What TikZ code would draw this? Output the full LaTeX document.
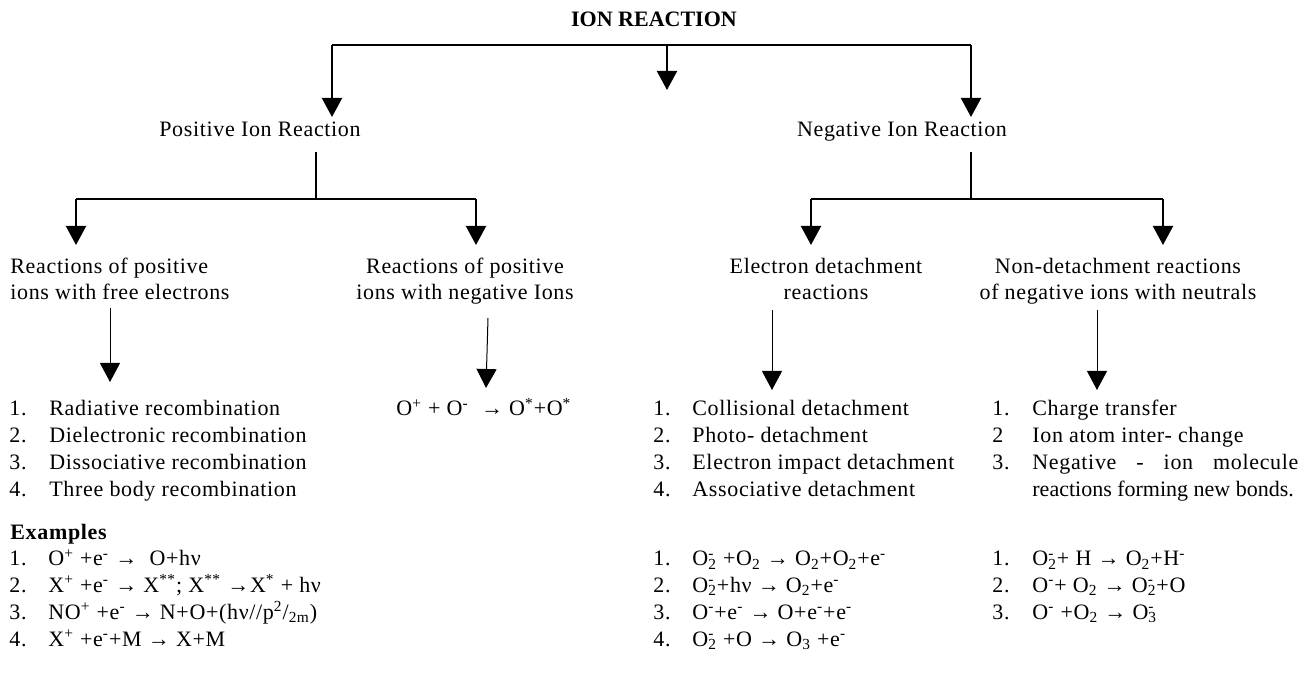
\documentclass[tikz,border=0pt]{standalone}
\usepackage{fontspec}
\setmainfont{Liberation Serif}[LetterSpace=3]
\usetikzlibrary{arrows.meta}
\newcommand{\ionSS}[2]{\rlap{\textsuperscript{#2}}\textsubscript{#1}}
\newcommand{\drawDownArrow}[3]{
	\draw[#3] (#1) -- (#2);
}
\tikzset{
	every node/.style={inner sep=0pt},
	bigtip/.style={-{Triangle[length=9.5pt,width=10pt]}},
	thickline/.style={line width=1pt},
	thinline/.style={line width=0.5pt},
	headtext/.style={font=\fontsize{11}{13}\selectfont},
	listtext/.style={font=\fontsize{11}{13.5}\selectfont},
	extext/.style={font=\fontsize{11}{13.35}\selectfont}
}

\begin{document}
\begin{tikzpicture}[x=0.5pt,y=-0.5pt,font=\fontsize{11}{13}\selectfont]
	\useasboundingbox (0,0) rectangle (1308,683);

	\coordinate (TOP_L) at (332,45);
	\coordinate (TOP_M) at (667,45);
	\coordinate (TOP_R) at (971,45);
	\coordinate (TIP_L) at (332,117);
	\coordinate (TIP_M) at (667,90);
	\coordinate (TIP_R) at (971,117);

	\coordinate (POS_S) at (316,152);
	\coordinate (POS_B) at (316,199);
	\coordinate (POS_BL) at (76,199);
	\coordinate (POS_BR) at (476,199);
	\coordinate (POS_TL) at (76,245);
	\coordinate (POS_TR) at (476,245);

	\coordinate (NEG_S) at (971,152);
	\coordinate (NEG_B) at (971,199);
	\coordinate (NEG_BL) at (811,199);
	\coordinate (NEG_BR) at (1163,199);
	\coordinate (NEG_TL) at (811,245);
	\coordinate (NEG_TR) at (1163,245);

	\coordinate (AR1_T) at (110,308);
	\coordinate (AR1_B) at (110,382);
	\coordinate (AR2_T) at (488,318);
	\coordinate (AR2_B) at (486,388);
	\coordinate (AR3_T) at (772,310);
	\coordinate (AR3_B) at (772,390);
	\coordinate (AR4_T) at (1097,310);
	\coordinate (AR4_B) at (1097,390);

	\node[anchor=base,font=\fontsize{11}{13}\selectfont\bfseries\addfontfeature{LetterSpace=0}] (title) at (654,27) {ION REACTION};
	\node[anchor=base] (posR) at (260,137) {Positive Ion Reaction};
	\node[anchor=base] (negR) at (902,137) {Negative Ion Reaction};

	\node[headtext,anchor=base west] (pFree) at (10,274) {\begin{tabular}[t]{@{}l@{}}Reactions of positive\\ions with free electrons\end{tabular}};
	\node[headtext,anchor=base] (pNeg) at (465,274) {\begin{tabular}[t]{@{}c@{}}Reactions of positive\\ions with negative Ions\end{tabular}};
	\node[headtext,anchor=base] (eDet) at (826,274) {\begin{tabular}[t]{@{}c@{}}Electron detachment\\reactions\end{tabular}};
	\node[headtext,anchor=base] (nonDet) at (1118,274) {\begin{tabular}[t]{@{}c@{}}Non-detachment reactions\\of negative ions with neutrals\end{tabular}};

	% lists of reactions
	\node[listtext,anchor=base west] (pFreeList) at (9,416) {\begin{tabular}[t]{@{}p{20pt}@{}l@{}}
		1. & Radiative recombination\\
		2. & Dielectronic recombination\\
		3. & Dissociative recombination\\
		4. & Three body recombination
	\end{tabular}};
	\node[listtext,anchor=base west] (pNegEq) at (396,416) {O\textsuperscript{+} + O\textsuperscript{-} \ → O\textsuperscript{*}+O\textsuperscript{*}};
	\node[listtext,anchor=base west] (eDetList) at (653,416) {\begin{tabular}[t]{@{}p{19.5pt}@{}l@{}}
		1. & Collisional detachment\\
		2. & Photo- detachment\\
		3. & Electron impact detachment\\
		4. & Associative detachment
	\end{tabular}};
	\node[listtext,anchor=base west] (nonDetList) at (992,416) {\begin{tabular}[t]{@{}p{20pt}@{}l@{}}
		1. & Charge transfer\\
		2 & Ion atom inter- change\\
		3. & \makebox[133pt][s]{Negative - ion molecule}\\
		& \addfontfeature{LetterSpace=0}reactions forming new bonds.
	\end{tabular}};

	% examples
	\node[anchor=base west,font=\fontsize{11}{13}\selectfont\bfseries] (exHead) at (10,540) {Examples};
	\node[extext,anchor=base west] (pFreeEx) at (9,566) {\begin{tabular}[t]{@{}p{19.5pt}@{}l@{}}
		1. & O\textsuperscript{+} +e\textsuperscript{-} → \ O+hν\\
		2. & X\textsuperscript{+} +e\textsuperscript{-} → X\textsuperscript{**}; X\textsuperscript{**} →X\textsuperscript{*} + hν\\
		3. & NO\textsuperscript{+} +e\textsuperscript{-} → N+O+(hν//p\textsuperscript{2}/\textsubscript{2m})\\
		4. & X\textsuperscript{+} +e\textsuperscript{-}+M → X+M
	\end{tabular}};
	\node[extext,anchor=base west] (eDetEx) at (653,566) {\begin{tabular}[t]{@{}p{19.5pt}@{}l@{}}
		1. & O\ionSS{2}{-} +O\textsubscript{2} → O\textsubscript{2}+O\textsubscript{2}+e\textsuperscript{-}\\
		2. & O\ionSS{2}{-}+hν → O\textsubscript{2}+e\textsuperscript{-}\\
		3. & O\textsuperscript{-}+e\textsuperscript{-} → O+e\textsuperscript{-}+e\textsuperscript{-}\\
		4. & O\ionSS{2}{-} +O → O\textsubscript{3} +e\textsuperscript{-}
	\end{tabular}};
	\node[extext,anchor=base west] (nonDetEx) at (992,566) {\begin{tabular}[t]{@{}p{20pt}@{}l@{}}
		1. & O\ionSS{2}{-}+ H → O\textsubscript{2}+H\textsuperscript{-}\\
		2. & O\textsuperscript{-}+ O\textsubscript{2} → O\ionSS{2}{-}+O\\
		3. & O\textsuperscript{-} +O\textsubscript{2} → O\ionSS{3}{-}
	\end{tabular}};

	\draw[thickline] (TOP_L) -- (TOP_R);
	\drawDownArrow{TOP_L}{TIP_L}{thickline,bigtip}
	\drawDownArrow{TOP_M}{TIP_M}{thickline,bigtip}
	\drawDownArrow{TOP_R}{TIP_R}{thickline,bigtip}

	\draw[thickline] (POS_S) -- (POS_B);
	\draw[thickline] (POS_BL) -- (POS_BR);
	\drawDownArrow{POS_BL}{POS_TL}{thickline,bigtip}
	\drawDownArrow{POS_BR}{POS_TR}{thickline,bigtip}

	\draw[thickline] (NEG_S) -- (NEG_B);
	\draw[thickline] (NEG_BL) -- (NEG_BR);
	\drawDownArrow{NEG_BL}{NEG_TL}{thickline,bigtip}
	\drawDownArrow{NEG_BR}{NEG_TR}{thickline,bigtip}

	\drawDownArrow{AR1_T}{AR1_B}{thinline,bigtip}
	\drawDownArrow{AR2_T}{AR2_B}{thinline,bigtip}
	\drawDownArrow{AR3_T}{AR3_B}{thinline,bigtip}
	\drawDownArrow{AR4_T}{AR4_B}{thinline,bigtip}

\end{tikzpicture}
\end{document}
